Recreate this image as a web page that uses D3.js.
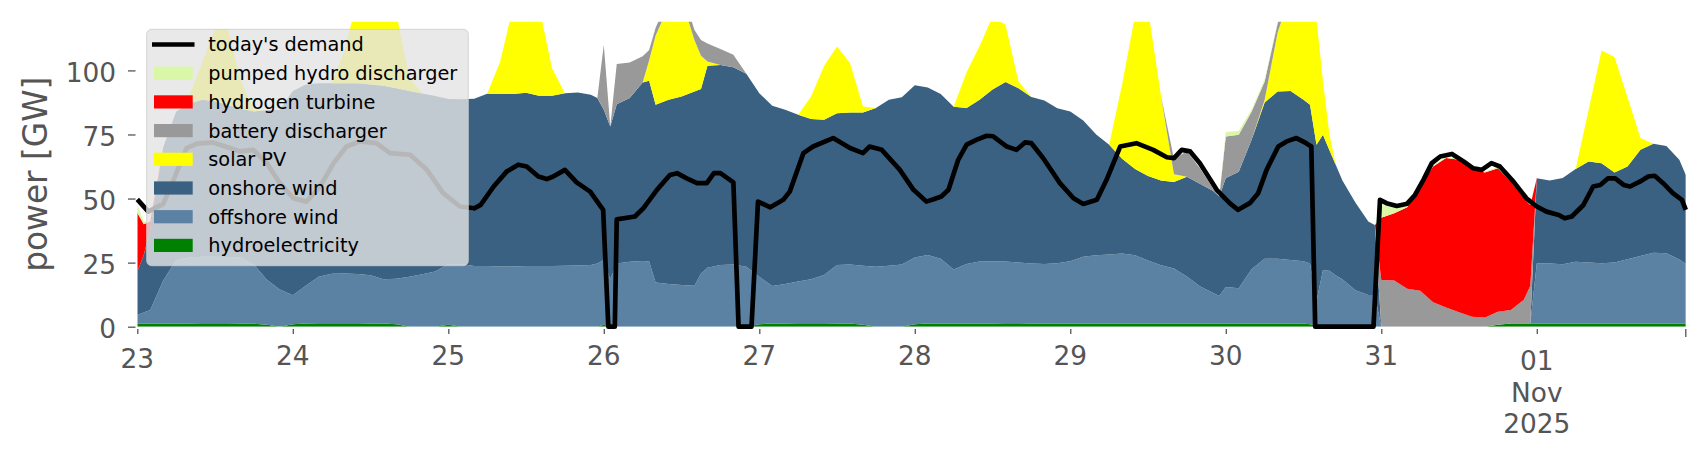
<!DOCTYPE html>
<html><head><meta charset="utf-8">
<script src="https://cdn.jsdelivr.net/npm/d3@7"></script>
<style>html,body{margin:0;padding:0;background:#fff;} svg{display:block;font-family:"DejaVu Sans",sans-serif;}</style>
</head><body>
<svg id="chart" width="1706" height="460"></svg>
<script>
// ---- time grid (hours after 23 Oct 2025 00:00) shared by the stacked areas ----
const hours = [
  0,1,2,4,6,8,10,12,14,16,18,20,22,
  24,26,28,30,32,34,36,38,40,42,44,46,
  48,50,52,54,56,58,60,62,64,66,68,70,71,72,73,
  74,76,78,79,80,82,84,86,87,88,90,92,94,
  96,98,100,102,104,106,108,110,112,114,116,118,
  120,122,124,126,128,130,132,134,136,138,140,142,
  144,146,148,150,152,154,156,158,160,162,164,166,167,
  168,170,172,174,176,178,180,181,182,183,184,185,186,188,190,191,
  192,194,196,198,200,202,204,206,208,210,212,214,215,
  216,218,220,222,224,226,228,230,232,234,236,238,239
];
// ---- series values, GW ----
const hydroelectricity = [
  1.2,1.2,1.2,1.2,1.2,1.2,1.3,1.3,1.3,1.2,1.2,0.8,0,
  1.0,1.2,1.3,1.3,1.3,1.3,1.2,1.2,1.0,0,0,0,
  0.8,0,0,0,0,0,0,0,0,0,0,0,0,0.8,0,
  0,0,0,0,0,0,0,0,0,0,0,0,0,
  1.0,1.2,1.2,1.3,1.3,1.3,1.2,1.2,0.8,0,0,0,
  1.0,1.2,1.2,1.2,1.2,1.2,1.2,1.3,1.3,1.2,1.2,1.2,
  1.2,1.2,1.2,1.2,1.2,1.2,1.2,1.2,1.2,1.2,1.2,1.2,1.2,
  1.2,1.2,1.2,1.2,1.2,1.2,1.2,1.0,0.5,0,0,0,0,0,0,0,
  0,0,0,0,0,0,0,0,0,0.8,1.2,1.2,1.2,
  1.2,1.2,1.2,1.2,1.2,1.2,1.2,1.2,1.2,1.2,1.2,1.2,1.2
];
const offshoreWind = [
  3.4,4.3,5.3,16.8,24.8,25.8,26.0,26.0,25.9,25.8,23.0,17.5,14.5,
  11.3,14.8,18.2,19.4,19.5,19.3,18.9,17.3,17.7,19.5,20.5,21.5,
  23.7,24.5,23.7,23.7,23.5,23.5,23.7,23.7,23.7,23.8,23.9,24.1,24.7,25.2,18.5,
  24.7,25.3,25.6,25.4,17.2,16.7,16.3,16.0,20.8,23.0,24.1,24.3,23.4,
  18.5,14.7,15.5,16.3,17.2,18.9,22.9,23.1,23.0,23.4,23.8,24.3,
  26.0,26.8,25.3,21.1,23.3,24.2,24.2,24.1,23.7,23.5,23.3,23.6,
  24.3,26.1,26.7,27.0,27.4,26.7,24.6,22.8,21.5,18.4,14.6,12.0,10.8,
  14.3,13.8,21.3,25.3,25.3,24.8,24.3,23.7,9.5,22.0,21.8,20.0,18.5,14.2,12.4,12.4,
  0,0,0,0,0,0,0,0,0,0,0,0,0,
  23.5,23.5,23.2,24.1,23.8,23.6,23.8,25.1,26.4,27.7,27.5,25.0,23.3
];
const onshoreWind = [
  16.9,22.5,31.5,52.0,58.0,60.0,61.2,60.7,59.3,58.0,59.8,66.2,70.0,
  79.7,78.5,75.5,74.3,74.2,74.4,74.4,75.5,74.3,72.5,70.5,68.5,
  64.3,64.2,65.2,67.2,67.4,67.3,67.6,66.4,66.4,67.3,67.5,66.4,64.5,58.6,59.6,
  62.1,63.9,69.7,70.6,69.4,71.8,73.5,75.8,71.9,78.8,78.0,76.9,75.3,
  71.6,70.3,67.9,65.1,62.5,60.5,59.2,59.3,59.8,61.9,64.7,65.2,
  67.2,65.3,64.3,63.5,60.8,63.1,67.1,70.1,68.0,64.9,63.8,60.4,
  58.5,53.2,47.1,42.8,36.9,33.6,33.0,33.0,33.8,38.9,40.0,39.8,38.8,
  42.5,45.5,50.5,61.0,65.3,66.0,63.0,61.9,61.0,52.9,47.0,43.0,38.5,34.3,28.6,27.3,
  0,0,0,0,0,0,0,0,0,0,0,0,0,
  33.2,32.3,33.6,36.2,39.5,39.0,35.2,36.2,41.4,42.5,41.8,38.9,34.7
];
const solarPV = [
  0,0,0,0,0,3,14.5,28,29.5,11,0.5,0,0,
  0,0,0,0,13,33,40.5,38,29,5,0,0,
  0,0,0,0,12.5,34,38.7,35,10.7,0,0,0,0,0,0,
  0,0,0,8,27,36.5,38,20,13,1.7,0,0,0,
  0,0,0,0,8.8,21,26,19.3,2.3,0,0,0,
  0,0,0,0,14,21,28.5,22.3,2.7,0,0,0,
  0,0,0,0,29,60,65,33,3,0,0,0,0,
  0,0,0,1,23,38,36.5,33.4,49,20.8,6.2,0,0,0,0,0,
  0,0,0,0,0,0,0,0,0,0,0,0,0,
  0,0,0,0,20,44,45,27,4.6,0,0,0,0
];
const batteryDischarger = [
  0,0,0,0,0,0,0,0,0,0,0,0,0,
  0,0,0,0,0,0,0,0,0,0,0,0,
  0,0,0,0,0,0,0,0,0,0,0,0,0,25.4,0,
  15.7,13.9,10.2,4,3,3,3.5,4,6.2,7,6.2,4.9,0,
  0,0,0,0,0,0,0,0,0,0,0,0,
  0,0,0,0,0,0,0,0,0,0,0,0,
  0,0,0,0,0,0,0,0,6,10,6,1,0,
  16.2,14.4,11,7.2,3.5,2,0,0,0,0,0,0,0,0,0,0,
  18.2,18,14.8,14,9.5,7.5,5.6,3.9,3.6,5,5.3,9.3,14.8,
  0,0,0,0,0,0,0,0,0,0,0,0,0
];
const hydrogenTurbine = [
  23,12,3,0,0,0,0,0,0,0,0,0,0,
  0,0,0,0,0,0,0,0,0,0,0,0,
  0,0,0,0,0,0,0,0,0,0,0,0,0,0,0,
  0,0,0,0,0,0,0,0,0,0,0,0,0,
  0,0,0,0,0,0,0,0,0,0,0,0,
  0,0,0,0,0,0,0,0,0,0,0,0,
  0,0,0,0,0,0,0,0,0,0,0,0,0,
  0,0,0,0,0,0,0,0,0,0,0,0,0,0,0,0,
  24.3,26.3,31.8,40.7,53,58.3,59.5,57.9,56.6,56,50.1,39.6,31.5,
  0,0,0,0,0,0,0,0,0,0,0,0,0
];
const pumpedHydroDischarger = [
  3,1,0,0,0,0,0,0,0,0,0,0,0,
  0,0,0,0,0,0,0,0,0,0,0,0,
  0,0,0,0,0,0,0,0,0,0,0,0,0,0,0,
  0,0,0,0,0,0,0,0,0,0,0,0,0,
  0,0,0,0,0,0,0,0,0,0,0,0,
  0,0,0,0,0,0,0,0,0,0,0,0,
  0,0,0,0,0,0,0,0,0,0,0,0,0,
  1.8,1.5,0.8,0.8,0.5,0,0,0,0,0,0,0,0,0,0,0,
  5,2.2,0.5,0.4,0.4,0.4,0.4,0.4,0.4,0.4,0.4,0.4,0.4,
  0,0,0,0,0,0,0,0,0,0,0,0,0
];
// ---- today's demand, on its own time points ----
const demandHours = [
  0,1.7,4,5.6,7.6,9.2,11.7,14.3,15.8,17.9,20,22,24.1,26.1,28.2,30.3,32.3,34.4,36.9,39,42.1,44.7,47.2,49.8,
  52,53,55,57,58.8,60.1,61.9,63.2,64.2,66,67.8,69.9,71.9,72.7,73.7,74,76.8,78.1,80.2,82.2,83.3,84.8,86.4,87.9,
  89,90,92,92.8,94.8,95.8,97.7,99.7,100.7,102.8,104.3,107.4,110,112,113,114.9,117.7,119.8,121.8,122.9,124.1,125.2,
  126.7,128,129.5,131.1,132.1,134.2,135.7,137,138,139.8,142.4,144.5,146,148.1,149.6,151.7,154.2,156.8,158.9,160,
  161.2,162.5,164,166.6,168.6,169.9,171.7,173,174.3,176.1,177.4,178.9,180.4,181.2,181.8,190.8,191.8,192.8,194.4,196,
  197.2,198.5,199.8,201.1,202.9,204.7,206.2,207.5,209,210.3,212.4,214.4,216,217.5,219.4,220.3,221.4,223.2,224.7,225.8,
  227,228.1,229.4,230.4,231.9,233.2,234.2,235.5,237,238.4,239
];
const demand = [
  49.7,44.9,47.9,57.3,69.7,71.4,71.9,69.7,68.4,69,63.8,56,50.1,48.8,54.7,63.8,70.3,72.3,71.6,67.7,67.1,61.2,52.1,46.9,
  46.2,47.5,54.7,60.5,63.2,62.5,58.6,57.6,58.6,61.2,56.3,52.7,45.6,0,0,41.9,43,46.2,53.4,59.2,59.9,57.9,56,56,
  59.9,59.9,56.3,0,0,48.8,46.6,49.5,52.7,67.7,70.3,73.6,69.7,67.7,70.3,69,61.2,53.4,48.8,49.7,50.8,53.4,
  65.1,71,72.9,74.5,74.3,70.3,69,71.9,71.6,65.8,56,50.1,47.9,49.5,57.3,70.3,71.6,69,66.1,65.8,
  69,68.4,63.8,53.4,48.2,45.6,48.2,52.1,61.2,70.3,72.3,73.6,71.6,70.3,0,0,49.5,48.2,47.1,48,
  51.4,57.3,63.8,66.4,67.4,64.5,61.8,61.2,63.8,62.5,56.6,50.1,46.9,44.9,43.6,42.3,43,47.5,54.7,55.3,
  57.9,57.9,55.3,54.7,56.6,58.6,58.9,56,52.1,49.5,45.6
];
// ---- axes ----
const yTicks = [0, 25, 50, 75, 100];
const xTickHours = [0, 24, 48, 72, 96, 120, 144, 168, 192, 216];
const xTickLabels = [["23"],["24"],["25"],["26"],["27"],["28"],["29"],["30"],["31"],["01","Nov","2025"]];
const seriesNames = ["hydroelectricity","offshore wind","onshore wind","solar PV","battery discharger","hydrogen turbine","pumped hydro discharger"];
const seriesColors = ["#008000","#5b82a3","#3b6182","#ffff00","#999999","#ff0000","#d9f7a6"];

// ---- drawing ----
const svg = d3.select("#chart");
const P = {left: 137.3, right: 1685.8, top: 21.7, bottom: 326.7};
const x = d3.scaleLinear().domain([0, 239]).range([P.left, P.right]);
const y = d3.scaleLinear().domain([0, 119]).range([P.bottom, P.top]);

const seriesValues = [hydroelectricity, offshoreWind, onshoreWind, solarPV, batteryDischarger, hydrogenTurbine, pumpedHydroDischarger];
const rows = hours.map((t, i) => {
  const r = {t};
  seriesNames.forEach((n, k) => r[n] = seriesValues[k][i]);
  return r;
});
const stacked = d3.stack().keys(seriesNames)(rows);

svg.append("defs").append("clipPath").attr("id","plotclip")
  .append("rect").attr("x", P.left).attr("y", P.top).attr("width", P.right - P.left).attr("height", P.bottom - P.top);

const area = d3.area().x(d => x(d.data.t)).y0(d => y(d[0])).y1(d => y(d[1]));
svg.append("g").attr("clip-path","url(#plotclip)")
  .selectAll("path").data(stacked).join("path")
  .attr("d", area).attr("fill", (d, i) => seriesColors[i]).attr("stroke","none");

const line = d3.line().x((d, i) => x(demandHours[i])).y(d => y(d));
svg.append("path").datum(demand).attr("d", line)
  .attr("fill","none").attr("stroke","#000").attr("stroke-width",4.7)
  .attr("stroke-linejoin","round").attr("stroke-linecap","butt");

// y axis
const yAxis = d3.axisLeft(y).tickValues(yTicks).tickSize(7.5).tickPadding(12);
const gy = svg.append("g").attr("transform","translate(135.5,0)").call(yAxis);
gy.select(".domain").remove();
gy.selectAll(".tick line").attr("stroke","#555").attr("stroke-width",1.3);
gy.selectAll(".tick text").attr("fill","#555").attr("font-size","26.4px")
  .attr("font-family","DejaVu Sans").attr("dy","0.41em");

// x axis
const xAxis = d3.axisBottom(x).tickValues(xTickHours).tickSize(5).tickFormat("");
const gx = svg.append("g").attr("transform","translate(0,329)").call(xAxis);
gx.select(".domain").remove();
gx.selectAll(".tick line").attr("stroke","#555").attr("stroke-width",1.3);
gx.append("line").attr("x1", x(239)).attr("x2", x(239)).attr("y1", 0).attr("y2", 8)
  .attr("stroke","#555").attr("stroke-width",1.3);
xTickHours.forEach((h, i) => {
  const lines = xTickLabels[i];
  const base = i === 0 ? 368 : (lines.length > 1 ? 370 : 365);
  const t = svg.append("text").attr("x", x(h)).attr("y", base)
    .attr("text-anchor","middle").attr("fill","#555").attr("font-size","26.4px");
  lines.forEach((s, j) => t.append("tspan").attr("x", x(h)).attr("y", base + j * 31.7).text(s));
});

// y label
svg.append("text").attr("transform","translate(47,174.2) rotate(-90)")
  .attr("text-anchor","middle").attr("fill","#555").attr("font-size","32.8px").text("power [GW]");

// legend
const lg = svg.append("g");
lg.append("rect").attr("x",146.7).attr("y",29.3).attr("width",321.6).attr("height",236.4)
  .attr("rx",5).attr("fill","#e4e4e5").attr("fill-opacity",0.8)
  .attr("stroke","#cccccc").attr("stroke-opacity",0.8).attr("stroke-width",1);
const legendItems = [{name:"today's demand", line:true}]
  .concat(seriesNames.map((n, i) => ({name: n, color: seriesColors[i]})).reverse());
legendItems.forEach((it, i) => {
  const cy = 44.5 + i * 28.7;
  if (it.line) {
    lg.append("line").attr("x1",152).attr("x2",194.5).attr("y1",cy).attr("y2",cy)
      .attr("stroke","#000").attr("stroke-width",4.7);
  } else {
    lg.append("rect").attr("x",154).attr("y",cy - 6.6).attr("width",38.7).attr("height",13.2)
      .attr("fill", it.color);
  }
  lg.append("text").attr("x",208.3).attr("y",cy).attr("dy","0.36em")
    .attr("font-size","19.3px").attr("fill","#000").text(it.name);
});
</script>
</body></html>
